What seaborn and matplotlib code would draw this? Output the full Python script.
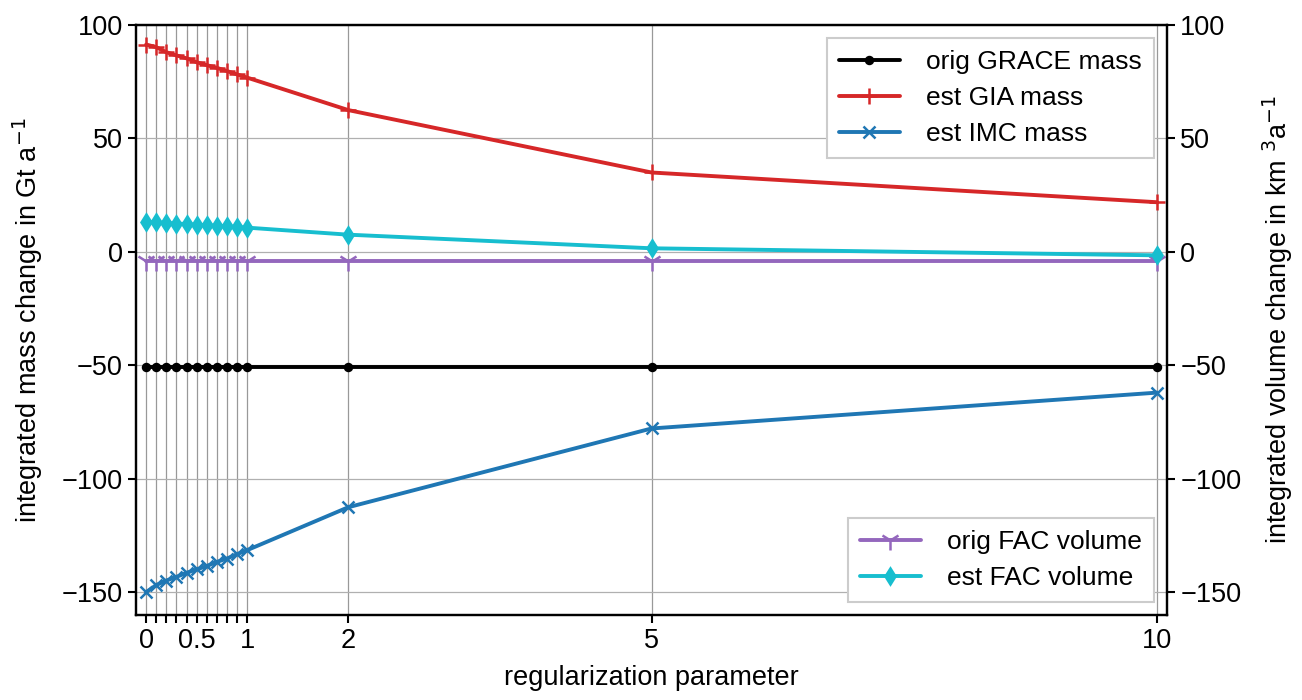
import numpy as np
import matplotlib
matplotlib.use('Agg')
import matplotlib.pyplot as plt
import seaborn as sns

# Parámetro de regularización
regularizacion = [0, 0.1, 0.2, 0.3, 0.4, 0.5, 0.6, 0.7, 0.8, 0.9, 1.0, 2, 5, 10]

# Masas (Gt/a), eje izquierdo
orig_grace = [-50.6] * 14
est_gia = [91.4, 90.2, 88.0, 86.6, 85.3, 83.6, 82.3, 81.1, 79.7, 78.2, 76.8, 62.5, 35.0, 21.9]
est_imc = [-149.9, -146.8, -144.8, -143.2, -141.4, -139.9, -138.4, -136.6, -135.1, -133.2, -131.4,
           -112.5, -77.8, -62.0]

# Volúmenes (km^3/a), eje derecho
orig_fac = [-3.9] * 14
est_fac = [13.2, 13.0, 12.8, 12.5, 12.3, 12.0, 11.8, 11.5, 11.3, 11.0, 10.7, 7.6, 1.6, -1.5]

etiquetas_x = ['0', '', '', '', '', '0.5', '', '', '', '', '1', '2', '5', '10']
ticks_y = [-150, -100, -50, 0, 50, 100]

sns.set_style('ticks')
plt.rcParams['font.family'] = ['Liberation Sans', 'DejaVu Sans']
plt.rcParams['font.size'] = 19.5
plt.rcParams['text.color'] = 'black'
plt.rcParams['axes.labelcolor'] = 'black'
plt.rcParams['axes.linewidth'] = 1.6
plt.rcParams['xtick.major.width'] = 1.5
plt.rcParams['ytick.major.width'] = 1.5
plt.rcParams['xtick.major.size'] = 6
plt.rcParams['ytick.major.size'] = 6
plt.rcParams['xtick.color'] = 'black'
plt.rcParams['ytick.color'] = 'black'
plt.rcParams['axes.edgecolor'] = 'black'

fig = plt.figure(figsize=(13.02, 7), dpi=100)
ax1 = fig.add_axes([0.1045, 0.1214, 0.7918, 0.8429])
ax2 = ax1.twinx()

lw = 2.8
series_izq = [
    (orig_grace, 'black', 'o', 5, 'orig GRACE mass'),
    (est_gia, '#d62728', '+', 11, 'est GIA mass'),
    (est_imc, '#1f77b4', 'x', 9, 'est IMC mass'),
]
series_der = [
    (orig_fac, '#9467bd', '1', 14, 'orig FAC volume'),
    (est_fac, '#17becf', 'd', 8.5, 'est FAC volume'),
]
for ax, series in ((ax1, series_izq), (ax2, series_der)):
    for valores, color, marcador, tam, nombre in series:
        sns.lineplot(x=regularizacion, y=valores, ax=ax, color=color, marker=marcador,
                     markersize=tam, markeredgecolor=color, markerfacecolor=color,
                     markeredgewidth=1.8, linewidth=lw, label=nombre)

for ax in (ax1, ax2):
    ax.set_ylim(-160, 100)
    ax.set_yticks(ticks_y)
    ax.set_xlim(-0.1, 10.1)

ax1.set_xticks(regularizacion)
ax1.set_xticklabels(etiquetas_x)
ax1.tick_params(labelsize=19.5)
ax2.tick_params(labelsize=19.5)

ax1.xaxis.grid(True, color='#999999', linewidth=0.9)
ax1.yaxis.grid(True, color='#b0b0b0', linewidth=0.9)
ax1.set_axisbelow(True)

ax1.set_xlabel('regularization parameter', fontsize=19.5, labelpad=8)
ax1.set_ylabel('integrated mass change in Gt a$^{-1}$', fontsize=19.5, labelpad=12)
ax2.set_ylabel('integrated volume change in km $^3$a$^{-1}$', fontsize=19.5, rotation=90, labelpad=14)

ley1 = ax1.legend(loc='upper right', fontsize=19, fancybox=False, edgecolor='#cccccc',
                  framealpha=1, borderpad=0.45, handlelength=2.3, handletextpad=1.0,
                  labelspacing=0.45)
ley1.get_frame().set_linewidth(1.5)
ley2 = ax2.legend(loc='lower right', fontsize=19, fancybox=False, edgecolor='#cccccc',
                  framealpha=1, borderpad=0.45, handlelength=2.3, handletextpad=1.0,
                  labelspacing=0.45)
ley2.get_frame().set_linewidth(1.5)

fig.savefig('out.png', dpi=100)
